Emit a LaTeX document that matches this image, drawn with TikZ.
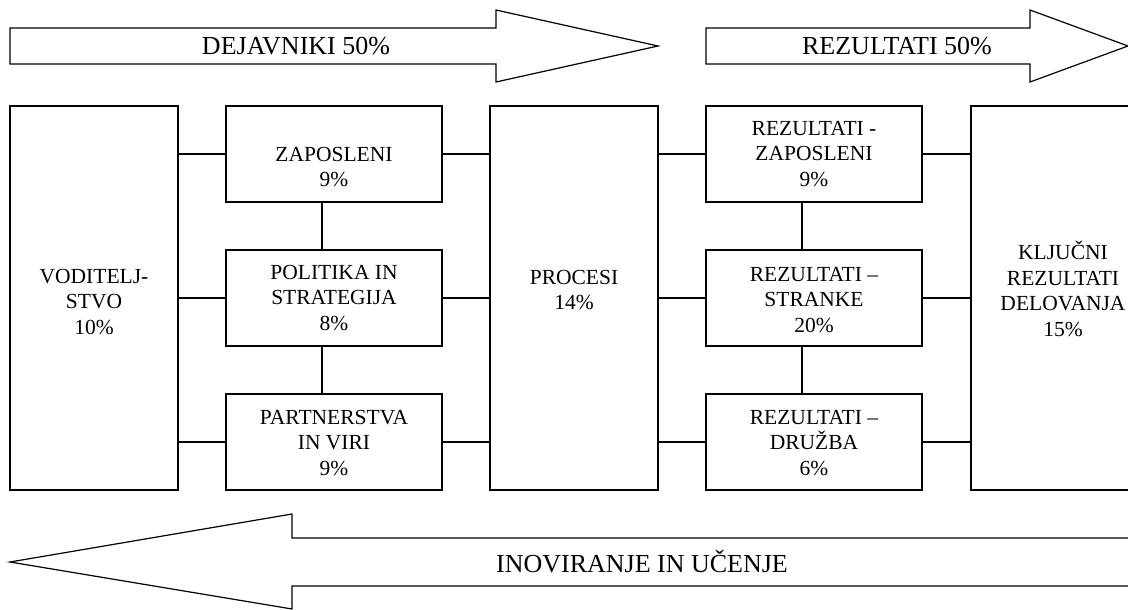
\documentclass[tikz,border=0pt]{standalone}
\usepackage{fontspec}
\setmainfont{Liberation Serif}
\begin{document}
\begin{tikzpicture}[x=1pt,y=-1pt,
  line width=1.2pt,
  box/.style={draw, line width=1.2pt, inner sep=0pt, minimum width=216pt, minimum height=96pt},
  tallbox/.style={box, minimum width=168pt, minimum height=384pt},
  boxtext/.style={align=center, inner sep=0pt, font=\fontsize{21.5}{25.5}\selectfont},
  arrowtext/.style={inner sep=0pt, font=\fontsize{26}{30}\selectfont},
  link/.style={draw, line width=1.2pt}]
\useasboundingbox (0,0) rectangle (1128,610);
\begin{scope}
\clip (0,0) rectangle (1128,610);

% block arrows along the top
\draw (10,28) -- (496,28) -- (496,10) -- (658,46) -- (496,82) -- (496,64) -- (10,64) -- cycle;
\node[arrowtext] (dej) at (296,46) {DEJAVNIKI 50\%};
\draw (706,28) -- (1030,28) -- (1030,10) -- (1128,46) -- (1030,82) -- (1030,64) -- (706,64) -- cycle;
\node[arrowtext] (rez) at (897,46) {REZULTATI 50\%};

% block arrow along the bottom, open on the right
\draw (1140,538) -- (292,538) -- (292,514) -- (10,562) -- (292,609) -- (292,586) -- (1140,586);
\node[arrowtext] (ino) at (642,562) {INOVIRANJE IN UČENJE};

% boxes
\node[tallbox] (vod) at (94,298) {};
\node[box] (zap) at (334,154) {};
\node[box] (pol) at (334,298) {};
\node[box] (par) at (334,442) {};
\node[tallbox] (proc) at (574,298) {};
\node[box] (rzap) at (814,154) {};
\node[box] (rstr) at (814,298) {};
\node[box] (rdru) at (814,442) {};
\node[tallbox, minimum width=190pt] (klj) at (1066,298) {};

% box labels
\node[boxtext] (vodt) at (94,302) {VODITELJ-\\STVO\\10\%};
\node[boxtext] (zapt) at (334,167) {ZAPOSLENI\\9\%};
\node[boxtext] (polt) at (334,298) {POLITIKA IN\\STRATEGIJA\\8\%};
\node[boxtext] (part) at (334,443) {PARTNERSTVA\\IN VIRI\\9\%};
\node[boxtext] (proct) at (574,290) {PROCESI\\14\%};
\node[boxtext] (rzapt) at (814,154) {REZULTATI -\\ZAPOSLENI\\9\%};
\node[boxtext] (rstrt) at (814,300) {REZULTATI –\\STRANKE\\20\%};
\node[boxtext] (rdrut) at (814,443) {REZULTATI –\\DRUŽBA\\6\%};
\node[boxtext] (kljt) at (1063,289) {KLJUČNI\\REZULTATI\\DELOVANJA\\15\%};

% horizontal connectors
\foreach \b in {zap,pol,par}{
  \draw[link] (vod.east |- \b.west) -- (\b.west);
  \draw[link] (\b.east) -- (proc.west |- \b.east);
}
\foreach \b in {rzap,rstr,rdru}{
  \draw[link] (proc.east |- \b.west) -- (\b.west);
  \draw[link] (\b.east) -- (klj.west |- \b.east);
}

% vertical connectors
\draw[link] ([xshift=-12pt]zap.south) -- ([xshift=-12pt]pol.north);
\draw[link] ([xshift=-12pt]pol.south) -- ([xshift=-12pt]par.north);
\draw[link] ([xshift=-12pt]rzap.south) -- ([xshift=-12pt]rstr.north);
\draw[link] ([xshift=-12pt]rstr.south) -- ([xshift=-12pt]rdru.north);
\end{scope}
\end{tikzpicture}
\end{document}
